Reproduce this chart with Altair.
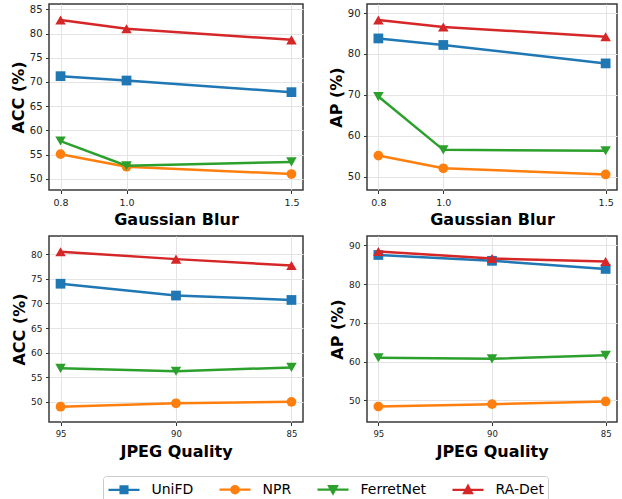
import altair as alt
import pandas as pd

# Series shared by all four panels
SERIES = ["UniFD", "NPR", "FerretNet", "RA-Det"]
COLORS = ["#1f77b4", "#ff7f0e", "#2ca02c", "#d62728"]
MARKERS = ["square", "circle", "triangle-down", "triangle-up"]

# Legend glyphs: a line segment with the series marker on it.
# Drawn with symbolSize 256 (8 px per unit), so the line spans ~31 px.
LEGEND_GLYPHS = [
    "M-1.94,0H1.94M-0.43,-0.43H0.43V0.43H-0.43Z",
    "M-1.94,0H1.94M0.46,0A0.46,0.46 0 1,1 -0.46,0A0.46,0.46 0 1,1 0.46,0Z",
    "M-1.94,0H1.94M-0.5,-0.42L0.5,-0.42L0,0.5Z",
    "M-1.94,0H1.94M-0.5,0.42L0.5,0.42L0,-0.5Z",
]

# Perturbation levels
BLUR_LEVELS = [0.8, 1.0, 1.5]
JPEG_LEVELS = [95, 90, 85]

# Gaussian blur results
BLUR_ACC_UNIFD = [71.2, 70.3, 67.9]
BLUR_ACC_NPR = [55.1, 52.5, 51.0]
BLUR_ACC_FERRET = [57.8, 52.7, 53.5]
BLUR_ACC_RADET = [82.8, 81.0, 78.7]

BLUR_AP_UNIFD = [83.8, 82.2, 77.7]
BLUR_AP_NPR = [55.2, 52.1, 50.6]
BLUR_AP_FERRET = [69.6, 56.6, 56.4]
BLUR_AP_RADET = [88.3, 86.6, 84.2]

# JPEG compression results
JPEG_ACC_UNIFD = [74.0, 71.6, 70.7]
JPEG_ACC_NPR = [49.0, 49.7, 50.0]
JPEG_ACC_FERRET = [56.8, 56.2, 57.0]
JPEG_ACC_RADET = [80.5, 79.0, 77.7]

JPEG_AP_UNIFD = [87.5, 86.0, 83.9]
JPEG_AP_NPR = [48.4, 49.0, 49.7]
JPEG_AP_FERRET = [61.0, 60.7, 61.6]
JPEG_AP_RADET = [88.4, 86.6, 85.8]

FONT = "DejaVu Sans"


def panel(levels, series_values, xdomain, ydomain, yticks, xtitle, ytitle,
          width, xfmt, xlab_size, ylab_size, xtitle_pad, with_legend=False):
    rows = []
    for name, vals in zip(SERIES, series_values):
        for lv, v in zip(levels, vals):
            rows.append({"series": name, "level": lv, "score": v})
    df = pd.DataFrame(rows)
    reverse = levels[0] > levels[-1]

    x = alt.X(
        "level:Q",
        scale=alt.Scale(domain=xdomain, reverse=reverse, nice=False, zero=False),
        axis=alt.Axis(
            values=levels, format=xfmt, title=xtitle, labelFontSize=xlab_size,
            titleFontSize=16, titleFontWeight="bold", titleFont=FONT,
            titleColor="black", titlePadding=xtitle_pad,
        ),
    )
    y = alt.Y(
        "score:Q",
        scale=alt.Scale(domain=ydomain, nice=False, zero=False),
        axis=alt.Axis(
            values=yticks, title=ytitle, labelFontSize=ylab_size,
            titleFontSize=16, titleFontWeight="bold", titleFont=FONT,
            titleColor="black", titlePadding=3,
        ),
    )

    layers = []
    for name, color, shape in zip(SERIES, COLORS, MARKERS):
        sub = alt.Chart(df).transform_filter(alt.datum.series == name)
        layers.append(sub.mark_line(color=color, strokeWidth=2.5).encode(x=x, y=y))
        size = 110 if "triangle" in shape else 95
        layers.append(
            sub.mark_point(shape=shape, filled=True, color=color, size=size,
                           opacity=1).encode(x=x, y=y)
        )

    if with_legend:
        legend = alt.Legend(
            orient="none", legendX=54, legendY=472, direction="horizontal",
            columns=4, title=None, symbolSize=256, symbolStrokeWidth=2.2,
            symbolOffset=7.5, labelOffset=18,
            labelFontSize=14, labelFont=FONT, labelColor="black",
            columnPadding=21, padding=4,
            fillColor="white", strokeColor="#cccccc", cornerRadius=3,
            symbolOpacity=1,
        )
        color_scale = alt.Scale(domain=SERIES, range=COLORS)
        layers.append(
            alt.Chart(df).transform_filter("false").mark_point(filled=True).encode(
                x=x, y=y,
                stroke=alt.Stroke("series:N", scale=color_scale, legend=legend),
                fill=alt.Fill("series:N", scale=color_scale, legend=legend),
                shape=alt.Shape("series:N",
                                scale=alt.Scale(domain=SERIES, range=LEGEND_GLYPHS),
                                legend=legend),
            )
        )

    return alt.layer(*layers).properties(width=width, height=186)


tl = panel(BLUR_LEVELS,
           [BLUR_ACC_UNIFD, BLUR_ACC_NPR, BLUR_ACC_FERRET, BLUR_ACC_RADET],
           [0.765, 1.535], [47.7, 86.1], [50, 55, 60, 65, 70, 75, 80, 85],
           "Gaussian Blur", "ACC (%)", 254, ".1f", 9.5, 10, 4.5, with_legend=True)
tr = panel(BLUR_LEVELS,
           [BLUR_AP_UNIFD, BLUR_AP_NPR, BLUR_AP_FERRET, BLUR_AP_RADET],
           [0.765, 1.535], [46.8, 92.2], [50, 60, 70, 80, 90],
           "Gaussian Blur", "AP (%)", 250, ".1f", 9.5, 10, 4.5)
bl = panel(JPEG_LEVELS,
           [JPEG_ACC_UNIFD, JPEG_ACC_NPR, JPEG_ACC_FERRET, JPEG_ACC_RADET],
           [84.5, 95.5], [45.9, 83.7], [50, 55, 60, 65, 70, 75, 80],
           "JPEG Quality", "ACC (%)", 254, "d", 8.5, 9, 6)
br = panel(JPEG_LEVELS,
           [JPEG_AP_UNIFD, JPEG_AP_NPR, JPEG_AP_FERRET, JPEG_AP_RADET],
           [84.5, 95.5], [44.4, 92.4], [50, 60, 70, 80, 90],
           "JPEG Quality", "AP (%)", 250, "d", 8.5, 9, 6)

chart = alt.concat(
    tl, tr, bl, br, columns=2,
    spacing=alt.RowColnumber(row=46, column=64),
    bounds="flush",
).properties(
    padding={"left": 9, "top": 3, "right": 0, "bottom": 0},
).configure(
    font=FONT,
).configure_view(
    stroke="#3a3a3a", strokeWidth=1.5,
).configure_axis(
    domain=False, grid=True, gridColor="#e4e4e4", gridWidth=1,
    tickSize=3.5, tickColor="#333333", tickWidth=1,
    labelColor="#222222", labelFont=FONT, labelPadding=3.5,
)

chart.save("out.html", embed_options={"renderer": "svg", "actions": False})
